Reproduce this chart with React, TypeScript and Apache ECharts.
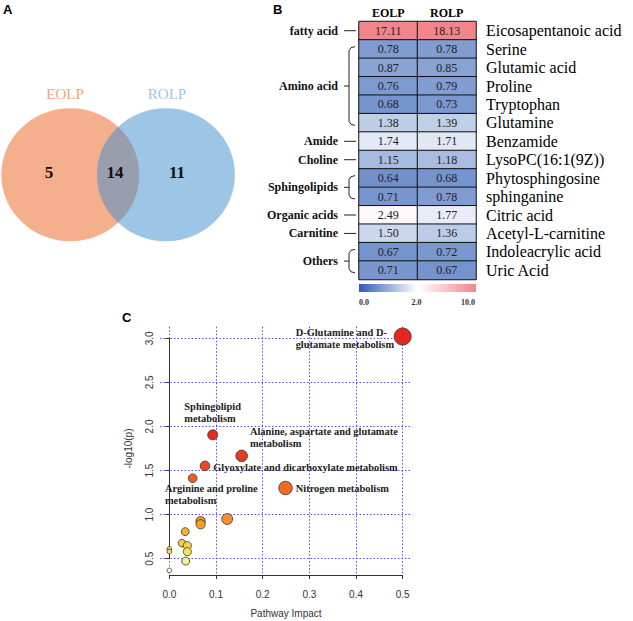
import React, { useEffect, useRef } from "react";
import * as echarts from "echarts";

// ---------- Panel A: Venn ----------
const vennSets = ["EOLP", "ROLP"];
const vennCounts = [5, 14, 11]; // EOLP only, both, ROLP only

// ---------- Panel B: heatmap ----------
const heatCols = ["EOLP", "ROLP"];
const metabolites = [
  "Eicosapentanoic acid", "Serine", "Glutamic acid", "Proline", "Tryptophan", "Glutamine",
  "Benzamide", "LysoPC(16:1(9Z))", "Phytosphingosine", "sphinganine", "Citric acid",
  "Acetyl-L-carnitine", "Indoleacrylic acid", "Uric Acid",
];
const eolpValues = [17.11, 0.78, 0.87, 0.76, 0.68, 1.38, 1.74, 1.15, 0.64, 0.71, 2.49, 1.5, 0.67, 0.71];
const rolpValues = [18.13, 0.78, 0.85, 0.79, 0.73, 1.39, 1.71, 1.18, 0.68, 0.78, 1.77, 1.36, 0.72, 0.67];
const groupNames = ["fatty acid", "Amino acid", "Amide", "Choline", "Sphingolipids", "Organic acids", "Carnitine", "Others"];
const groupStart = [0, 1, 6, 7, 8, 10, 11, 12];
const groupEnd = [0, 5, 6, 7, 9, 10, 11, 13];
const colorbarStops = [0, 2, 10];
const colorbarLabels = ["0.0", "2.0", "10.0"];

// ---------- Panel C: pathway bubble plot ----------
const pathwayImpact = [0.5, 0.093, 0.155, 0.0764, 0.05, 0.249, 0.124, 0.067, 0.067, 0.034, 0.027, 0.0386, 0.0386, 0.035, 0, 0, 0];
const negLogP = [3.02, 1.905, 1.666, 1.553, 1.413, 1.302, 0.95, 0.927, 0.89, 0.807, 0.677, 0.648, 0.58, 0.473, 0.61, 0.58, 0.367];
const pathwayLabels = [
  ["D-Glutamine and D-", "glutamate metabolism"],
  ["Sphingolipid", "metabolism"],
  ["Alanine, aspartate and glutamate", "metabolism"],
  ["Glyoxylate and dicarboxylate metabolism"],
  ["Arginine and proline", "metabolism"],
  ["Nitrogen metabolism"],
];
const xTicks = [0, 0.5, 0.1];
const yTicks = [0.5, 3.0, 0.5];

const SERIF = '"Liberation Serif", "Times New Roman", serif';
const SANS = '"Liberation Sans", Arial, sans-serif';
const BLUE = "#2f5db3";
const RED = "#f2858c";

function toColorScale(v: number) {
  return v <= 2 ? v / 2 : Math.min(2, 1 + (v - 2) / 8);
}

export default function App() {
  const ref = useRef<HTMLDivElement>(null);
  useEffect(() => {
    const chart = echarts.init(ref.current!, null, { renderer: "svg" });

    const heatData: any[] = [];
    [eolpValues, rolpValues].forEach((vals, c) => {
      vals.forEach((v, r) => heatData.push([heatCols[c], metabolites[r], v, toColorScale(v)]));
    });
    const scatterData = pathwayImpact.map((x, i) => [x, negLogP[i]]);

    const heatGrid = { left: 359, top: 21.5, width: 117, height: 258 };
    const gridH = { left: 160, top: 338.3, width: 252, height: 220.4 };
    const gridV = { left: 169.33, top: 326.7, width: 233.34, height: 248.3 };
    const gridLine = { color: "#3c3cf0", type: [1.5, 2] as any, width: 1, opacity: 0.9 };

    chart.setOption({
      animation: false,
      backgroundColor: "#fff",
      grid: [
        { ...heatGrid, containLabel: false },
        { ...gridH, containLabel: false },
        { ...gridV, containLabel: false },
      ],
      xAxis: [
        {
          gridIndex: 0, type: "category", data: heatCols, position: "top",
          axisLine: { show: false }, axisTick: { show: false },
          axisLabel: { margin: 3, fontFamily: SERIF, fontWeight: "bold", fontSize: 12, color: "#000" },
        },
        { gridIndex: 1, type: "value", min: -0.02, max: 0.52, show: false },
        {
          gridIndex: 2, type: "value", min: xTicks[0], max: xTicks[1], interval: xTicks[2], offset: 5,
          axisLine: { show: true, lineStyle: { color: "#333", width: 1 } },
          axisTick: { show: true, length: 4, lineStyle: { color: "#333" } },
          axisLabel: { margin: 9, fontFamily: SANS, fontSize: 10, color: "#333", formatter: (v: number) => v.toFixed(1) },
          splitLine: { show: true, lineStyle: gridLine },
          name: "Pathway Impact", nameLocation: "middle", nameGap: 28,
          nameTextStyle: { fontFamily: SANS, fontSize: 10, color: "#333" },
        },
      ],
      yAxis: [
        {
          gridIndex: 0, type: "category", data: metabolites, inverse: true, position: "right",
          axisLine: { show: false }, axisTick: { show: false },
          axisLabel: { interval: 0, margin: 10, fontFamily: SERIF, fontSize: 16, color: "#000" },
        },
        {
          gridIndex: 1, type: "value", min: yTicks[0], max: yTicks[1], interval: yTicks[2],
          axisLine: { show: true, lineStyle: { color: "#333", width: 1 } },
          axisTick: { show: true, length: 4, lineStyle: { color: "#333" } },
          axisLabel: { rotate: 90, margin: 6, fontFamily: SANS, fontSize: 10, color: "#333", formatter: (v: number) => v.toFixed(1) },
          splitLine: { show: true, lineStyle: gridLine },
          name: "-log10(p)", nameLocation: "middle", nameGap: 27,
          nameTextStyle: { fontFamily: SANS, fontSize: 10, color: "#333" },
        },
        { gridIndex: 2, type: "value", min: 0, max: 1, show: false },
      ],
      visualMap: [
        {
          type: "continuous", show: false, seriesIndex: 0, dimension: 3, min: 0, max: 2,
          inRange: { color: [BLUE, "#ffffff", RED] },
        },
        {
          type: "continuous", show: false, seriesIndex: 1, dimension: 1, min: 0.35, max: 1.95,
          inRange: { color: ["#fffbe6", "#f1e65e", "#f7c02a", "#f59128", "#f37e24", "#f06622", "#ec4622", "#e93222", "#e62622"] },
        },
      ],
      series: [
        {
          type: "heatmap", xAxisIndex: 0, yAxisIndex: 0, data: heatData,
          itemStyle: { borderColor: "#111", borderWidth: 1 },
          label: {
            show: true, fontFamily: SERIF, fontSize: 12, color: "#222",
            formatter: (p: any) => p.value[2].toFixed(2),
          },
          emphasis: { disabled: true },
        },
        {
          type: "scatter", xAxisIndex: 1, yAxisIndex: 1, data: scatterData, clip: false,
          symbolSize: (v: number[]) => 4.7 + 17.5 * Math.sqrt(v[0]),
          itemStyle: { borderColor: "#333", borderWidth: 0.8, opacity: 1 },
          emphasis: { disabled: true },
        },
      ],
    });

    const g: any[] = [];
    // Panel letters
    const letter = (t: string, x: number, y: number) =>
      g.push({ type: "text", x, y, style: { text: t, font: `bold 13px ${SANS}`, fill: "#000" } });
    letter("A", 3, 3);
    letter("B", 273, 3);
    letter("C", 122, 311);

    // Venn
    const cy = 174.7;
    g.push({ type: "ellipse", shape: { cx: 70.3, cy, rx: 69, ry: 66.5 }, style: { fill: "#f4b08c" } });
    g.push({ type: "ellipse", shape: { cx: 165.9, cy, rx: 69, ry: 66.5 }, style: { fill: "#3b8bcd", opacity: 0.5 } });
    g.push({ type: "text", x: 65, y: 94, style: { text: vennSets[0], font: `15px ${SERIF}`, fill: "#f3a67d", align: "center", verticalAlign: "middle" } });
    g.push({ type: "text", x: 167, y: 94, style: { text: vennSets[1], font: `15px ${SERIF}`, fill: "#9cc4e6", align: "center", verticalAlign: "middle" } });
    [49, 115, 177].forEach((x, i) =>
      g.push({ type: "text", x, y: 172, style: { text: String(vennCounts[i]), font: `bold 17px ${SERIF}`, fill: "#111", align: "center", verticalAlign: "middle" } })
    );

    // Heatmap group brackets
    const gl = heatGrid.left;
    const rowY = (r: number) => chart.convertToPixel({ xAxisIndex: 0, yAxisIndex: 0 } as any, [heatCols[0], metabolites[r]])[1];
    groupNames.forEach((name, i) => {
      const y0 = rowY(groupStart[i]);
      const y1 = rowY(groupEnd[i]);
      const mid = (y0 + y1) / 2;
      const ls = { stroke: "#222", lineWidth: 1, fill: null };
      if (groupStart[i] === groupEnd[i]) {
        g.push({ type: "line", shape: { x1: gl - 15, y1: mid, x2: gl - 3, y2: mid }, style: ls });
      } else {
        const top = y0 - 2.5, bot = y1 + 2.5;
        g.push({ type: "polyline", shape: { points: [[gl - 4, top], [gl - 8, top + 1], [gl - 10, top + 4], [gl - 10, bot - 4], [gl - 8, bot - 1], [gl - 4, bot]] }, style: ls });
        g.push({ type: "line", shape: { x1: gl - 15, y1: mid, x2: gl - 10, y2: mid }, style: ls });
      }
      g.push({ type: "text", x: gl - 21, y: mid, style: { text: name, font: `bold 12px ${SERIF}`, fill: "#111", align: "right", verticalAlign: "middle" } });
    });

    // Colour bar
    const cbX = gl, cbW = heatGrid.width, cbY = 284, cbH = 8;
    g.push({
      type: "rect", shape: { x: cbX, y: cbY, width: cbW, height: cbH },
      style: {
        fill: { type: "linear", x: 0, y: 0, x2: 1, y2: 0, colorStops: [{ offset: 0, color: BLUE }, { offset: 0.5, color: "#ffffff" }, { offset: 1, color: RED }] },
      },
    });
    const cbPos = [cbX + 5, cbX + cbW / 2 - 1, cbX + cbW - 8];
    colorbarStops.forEach((_, i) =>
      g.push({ type: "text", x: cbPos[i], y: 302, style: { text: colorbarLabels[i], font: `bold 8px ${SERIF}`, fill: "#333", align: "center", verticalAlign: "middle" } })
    );

    // Pathway annotations
    const offsets = [[-107, -10], [-28.4, -34.7], [8.3, -30], [8.3, -4], [-27.7, 4.7], [10.3, -5.4]];
    pathwayLabels.forEach((lines, i) => {
      const p = chart.convertToPixel({ xAxisIndex: 1, yAxisIndex: 1 } as any, scatterData[i]);
      g.push({
        type: "text", x: p[0] + offsets[i][0], y: p[1] + offsets[i][1], z: 10,
        style: { text: lines.join("\n"), font: `bold 10.4px ${SERIF}`, fill: "#222", lineHeight: 12, align: "left", verticalAlign: "top" },
      });
    });

    chart.setOption({ graphic: g });
    return () => chart.dispose();
  }, []);
  return <div ref={ref} style={{ position: "absolute", left: 0, top: 0, width: 633, height: 621, background: "#fff" }} />;
}
